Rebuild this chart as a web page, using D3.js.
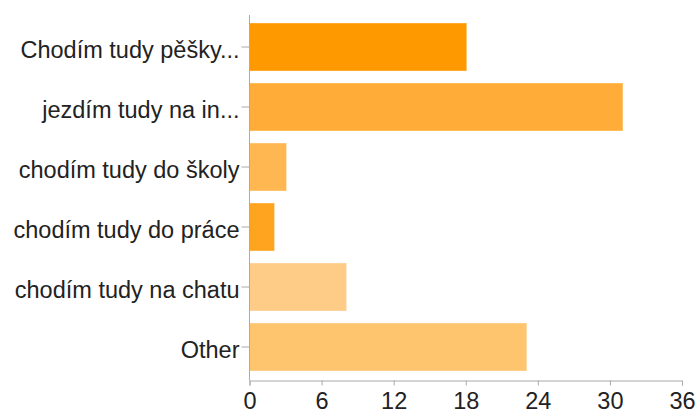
<!DOCTYPE html>
<html>
<head>
<meta charset="utf-8">
<script src="https://cdn.jsdelivr.net/npm/d3@7"></script>
<style>
  body { margin: 0; background: #fff; }
  .axis text { font-family: "Liberation Sans", Arial, Helvetica, sans-serif; font-size: 23.5px; fill: #222; }
  .axis line, .axis path { stroke: #aaa; }
</style>
</head>
<body>
<div class="svg-container"></div>
<script>
const categories = [
  'Chodím tudy pěšky...',
  'jezdím tudy na in...',
  'chodím tudy do školy',
  'chodím tudy do práce',
  'chodím tudy na chatu',
  'Other'
]
const counts = [18, 31, 3, 2, 8, 23]
const barColors = ['#ff9900', '#ffad38', '#ffb851', '#ffa41f', '#ffcc88', '#ffc46e']
const xTicks = [0, 6, 12, 18, 24, 30, 36]

const width = 697
const height = 410
const margin = { top: 17, right: 15, bottom: 30, left: 249.5 }

const data = categories.map((c, i) => ({ cat: c, n: counts[i], color: barColors[i] }))

const svg = d3.select('.svg-container').append('svg')
  .attr('width', width)
  .attr('height', height)

const x = d3.scaleLinear()
  .domain([0, 36])
  .range([margin.left, 682])

const y = d3.scaleBand()
  .domain(categories)
  .range([margin.top, 377])
  .paddingInner(0.2)
  .paddingOuter(0.1)

// bars
svg.append('g')
  .selectAll('rect')
  .data(data)
  .enter()
  .append('rect')
  .attr('x', x(0))
  .attr('y', d => y(d.cat))
  .attr('width', d => x(d.n) - x(0) + 1)
  .attr('height', y.bandwidth())
  .style('fill', d => d.color)
  .style('stroke', '#fff')
  .style('stroke-opacity', 0.35)

// left axis
const axeY = d3.axisLeft(y).tickSize(8).tickPadding(2)
const gy = svg.append('g')
  .attr('class', 'axis')
  .attr('transform', `translate(${margin.left},0)`)
  .call(axeY)
gy.select('.domain').remove()
gy.selectAll('text').attr('dy', '0.45em')

svg.append('line')
  .attr('x1', margin.left).attr('x2', margin.left)
  .attr('y1', 15).attr('y2', 380.5)
  .style('stroke', '#aaa')

// bottom axis
const axeX = d3.axisBottom(x).tickValues(xTicks).tickSize(5).tickPadding(7).tickSizeOuter(5)
svg.append('g')
  .attr('class', 'axis')
  .attr('transform', 'translate(0,380.5)')
  .call(axeX)
</script>
</body>
</html>
